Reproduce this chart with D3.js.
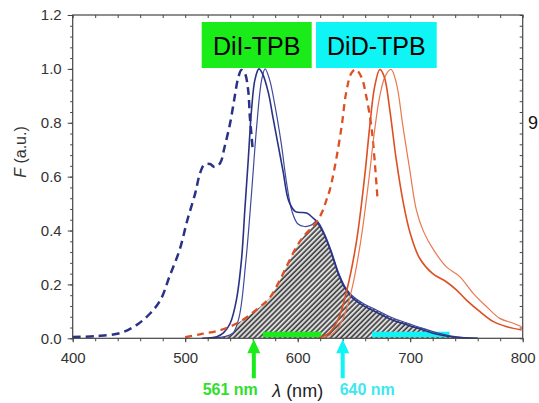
<!DOCTYPE html>
<html>
<head>
<meta charset="utf-8">
<script src="https://cdn.jsdelivr.net/npm/d3@7"></script>
<style>
body{margin:0;background:#fff;overflow:hidden;}
svg{display:block;}
</style>
</head>
<body>
<div id="chart"></div>
<script>
// [wavelength nm, F a.u.]
var dilAbs = [[400,0.005],[420,0.008],[442,0.019],[457,0.05],[469,0.093],[478,0.142],[486,0.229],[495,0.328],[502,0.44],[509,0.54],[513,0.61],[517,0.645],[522,0.647],[526,0.636],[531,0.65],[535,0.71],[540,0.80],[544,0.897],[547,0.965],[550,0.996],[553,0.984],[556,0.92],[557.5,0.82],[559,0.75],[560,0.70]];
var dilEmA = [[515,0],[528,0.006],[534,0.02],[540,0.056],[545.5,0.142],[550,0.29],[553,0.476],[556,0.66],[559,0.85],[562,0.96],[565.5,1.0],[569,0.98],[574,0.91],[578,0.82],[582.5,0.72],[587,0.62],[592,0.51],[598,0.47],[608,0.465],[614,0.445],[617,0.433],[623,0.39],[630,0.316],[636,0.24],[642,0.186],[648,0.153],[658,0.122],[670,0.097],[682,0.072],[697,0.05],[712,0.03],[724,0.015],[740,0.004],[760,0]];
var dilEmB = [[520,0],[535,0.006],[542.5,0.02],[548,0.08],[554,0.29],[559,0.54],[563.5,0.785],[568,0.96],[571,1.0],[575,0.96],[579.5,0.87],[585.5,0.72],[590,0.58],[595,0.47],[600,0.425],[606,0.415],[612,0.42],[617,0.435],[623,0.395],[630,0.322],[636,0.247],[642,0.192],[648,0.16],[658,0.13],[670,0.105],[682,0.08],[697,0.057],[712,0.036],[724,0.02],[740,0.006],[760,0]];
var didAbs = [[500,0.004],[513,0.015],[531,0.03],[548,0.06],[563,0.105],[575,0.15],[584,0.215],[590,0.266],[599,0.34],[605,0.377],[617,0.433],[622.5,0.476],[625.5,0.513],[628.5,0.55],[633,0.637],[639,0.785],[643,0.91],[647.7,0.984],[651.6,0.998],[656.6,0.97],[661,0.897],[665.5,0.785],[668.4,0.66],[670.8,0.526]];
var didEmA = [[618,0],[628,0.02],[636,0.07],[643,0.167],[652,0.353],[659.5,0.6],[664,0.785],[668.4,0.934],[673,0.998],[677,0.97],[681.8,0.85],[687.7,0.66],[694,0.5],[700,0.39],[708,0.30],[720,0.24],[732,0.21],[741,0.18],[750,0.142],[762,0.099],[774,0.062],[786,0.043],[799,0.031]];
var didEmB = [[622,0],[632,0.02],[640,0.07],[648,0.18],[656,0.36],[663,0.58],[668,0.76],[673,0.9],[678,0.975],[683,0.998],[687.7,0.947],[693.6,0.785],[699.6,0.625],[705.5,0.476],[712,0.395],[720.5,0.33],[732,0.266],[744,0.229],[756,0.167],[768,0.117],[779.6,0.074],[791.6,0.056],[799,0.043]];

var xTicks = [400,500,600,700,800];
var yTicks = [0,0.2,0.4,0.6,0.8,1.0,1.2];
var laserLines = [561,640];
var laserLabels = ["561 nm","640 nm"];
var filterBands = [[569,621],[666,735]];
var legendLabels = ["DiI-TPB","DiD-TPB"];

var width = 539;
var height = 403;
var blue = "#2a3285";
var blueLight = "#3f4a9c";
var red = "#de4f22";
var redLight = "#e9784f";
var green = "#19ec19";
var cyan = "#0ff4f4";
var font = "'Liberation Sans', Arial, sans-serif";

var x = d3.scaleLinear().domain([400,800]).range([72.7,522.7]);
var y = d3.scaleLinear().domain([0,1.2]).range([338.3,15]);

var svg = d3.select("#chart")
    .append("svg")
    .attr("width",width)
    .attr("height",height);

var defs = svg.append("defs");

//Diagonal hatch for the overlap
var pattern = defs.append("pattern")
    .attr("id","hatch")
    .attr("patternUnits","userSpaceOnUse")
    .attr("width",3.6)
    .attr("height",3.6)
    .attr("patternTransform","rotate(45)");
pattern.append("rect").attr("width",3.6).attr("height",3.6).attr("fill","#dcdcdc");
pattern.append("line")
    .attr("x1",1).attr("y1",0).attr("x2",1).attr("y2",3.6)
    .attr("stroke","#262626").attr("stroke-width",1.4);

var curve = d3.curveCatmullRom.alpha(0.5);

var line = d3.line()
    .x(function(d){ return x(d[0]); })
    .y(function(d){ return y(d[1]); })
    .curve(curve);

var area = d3.area()
    .x(function(d){ return x(d[0]); })
    .y0(y(0))
    .y1(function(d){ return y(d[1]); })
    .curve(curve);

//Overlap = under DiD absorption and under DiI emission
var peak = d3.greatest(didAbs, function(d){ return d[1]; });
var clip = defs.append("clipPath").attr("id","overlapClip");
clip.append("path").attr("d", area(didAbs));
clip.append("rect")
    .attr("x", x(peak[0]))
    .attr("y", y(1.2))
    .attr("width", x(800) - x(peak[0]))
    .attr("height", y(0) - y(1.2));

svg.append("path")
    .attr("d", area(dilEmB))
    .attr("fill","url(#hatch)")
    .attr("clip-path","url(#overlapClip)");

//Filter bands on the axis
svg.selectAll(".band")
    .data(filterBands)
    .enter()
    .append("rect")
    .attr("class","band")
    .attr("x", function(d){ return x(d[0]); })
    .attr("y", y(0) - 6.6)
    .attr("width", function(d){ return x(d[1]) - x(d[0]); })
    .attr("height", 5.6)
    .attr("fill", function(d,i){ return i === 0 ? green : cyan; });

//Spectra
var series = [
    { data: dilAbs, color: blue, w: 2.5, dash: "8,5" },
    { data: dilEmB, color: blueLight, w: 1.2, dash: null },
    { data: dilEmA, color: blue, w: 1.6, dash: null },
    { data: didAbs, color: red, w: 2.3, dash: "7,5" },
    { data: didEmB, color: redLight, w: 1.2, dash: null },
    { data: didEmA, color: red, w: 1.6, dash: null }
];

series.forEach(function( s ){
    svg.append("path")
        .attr("d", line(s.data))
        .attr("fill","none")
        .attr("stroke", s.color)
        .attr("stroke-width", s.w)
        .attr("stroke-dasharray", s.dash)
        .attr("stroke-linejoin","round");
});

//Axes
function styleAxis( g ){
    g.select(".domain").remove();
    g.selectAll("line").attr("stroke","#444").attr("stroke-width",1);
    g.selectAll("text").attr("fill","#333").style("font-family",font).style("font-size","15px");
}

svg.append("g")
    .attr("transform","translate(0," + y(0) + ")")
    .call(d3.axisBottom(x).tickValues(xTicks).tickSize(4).tickPadding(10).tickFormat(d3.format("d")))
    .call(styleAxis);
svg.append("g")
    .attr("transform","translate(0," + y(0) + ")")
    .call(d3.axisBottom(x).tickValues(d3.range(400,801,20)).tickSize(3).tickFormat(""))
    .call(styleAxis);
svg.append("g")
    .attr("transform","translate(" + x(400) + ",0)")
    .call(d3.axisLeft(y).tickValues(yTicks).tickSize(5).tickPadding(6).tickFormat(d3.format(".1f")))
    .call(styleAxis);
svg.append("g")
    .attr("transform","translate(" + x(400) + ",0)")
    .call(d3.axisLeft(y).tickValues(d3.range(0,1.201,0.04)).tickSize(2.5).tickFormat(""))
    .call(styleAxis);
svg.append("g")
    .attr("transform","translate(" + x(800) + ",0)")
    .call(d3.axisLeft(y).tickValues(d3.range(0,1.201,0.04)).tickSize(3).tickFormat(""))
    .call(styleAxis);
svg.append("g")
    .attr("transform","translate(0," + y(1.2) + ")")
    .call(d3.axisBottom(x).tickValues(d3.range(400,801,20)).tickSize(3).tickFormat(""))
    .call(styleAxis);

svg.append("rect")
    .attr("x", x(400))
    .attr("y", y(1.2))
    .attr("width", x(800) - x(400))
    .attr("height", y(0) - y(1.2))
    .attr("fill","none")
    .attr("stroke","#444")
    .attr("stroke-width",1.2);

//Axis titles
var yTitle = svg.append("text")
    .attr("transform","translate(26,152) rotate(-90)")
    .attr("text-anchor","middle")
    .attr("fill","#333")
    .style("font-family",font)
    .style("font-size","16px");
yTitle.append("tspan").style("font-style","italic").text("F");
yTitle.append("tspan").text(" (a.u.)");

var xTitle = svg.append("text")
    .attr("x", x(600))
    .attr("y", 397)
    .attr("text-anchor","middle")
    .attr("fill","#222")
    .style("font-family",font)
    .style("font-size","18px");
xTitle.append("tspan").style("font-style","italic").text("λ");
xTitle.append("tspan").text(" (nm)");

//Laser arrows and labels
laserLines.forEach(function( nm, i ){
    var ax = x(nm);
    var tip = y(0) + 1;
    var col = i === 0 ? green : cyan;
    var pts = [
        [ax, tip], [ax + 6.5, tip + 14], [ax + 2, tip + 14], [ax + 2, tip + 39],
        [ax - 2, tip + 39], [ax - 2, tip + 14], [ax - 6.5, tip + 14]
    ];
    svg.append("path")
        .attr("d", "M" + pts.join("L") + "Z")
        .attr("fill", col);
    svg.append("text")
        .attr("x", i === 0 ? ax + 4 : ax - 3)
        .attr("y", 395)
        .attr("text-anchor", i === 0 ? "end" : "start")
        .attr("fill", i === 0 ? "#2ee02e" : "#3ee8ee")
        .style("font-family",font)
        .style("font-size","16px")
        .style("font-weight","bold")
        .text(laserLabels[i]);
});

//Legend boxes
var legendBoxes = [[201.7,110],[316,120.7]];
legendLabels.forEach(function( label, i ){
    var bx = legendBoxes[i][0];
    var bw = legendBoxes[i][1];
    svg.append("rect")
        .attr("x", bx)
        .attr("y", 22)
        .attr("width", bw)
        .attr("height", 46)
        .attr("fill", i === 0 ? green : cyan);
    svg.append("text")
        .attr("x", bx + bw / 2)
        .attr("y", 55)
        .attr("text-anchor","middle")
        .attr("fill","#000")
        .style("font-family",font)
        .style("font-size","25px")
        .text(label);
});

//Label of the next panel at the right edge
svg.append("text")
    .attr("x", 528)
    .attr("y", 129)
    .attr("fill","#111")
    .style("font-family",font)
    .style("font-size","18px")
    .text("9");
</script>
</body>
</html>
